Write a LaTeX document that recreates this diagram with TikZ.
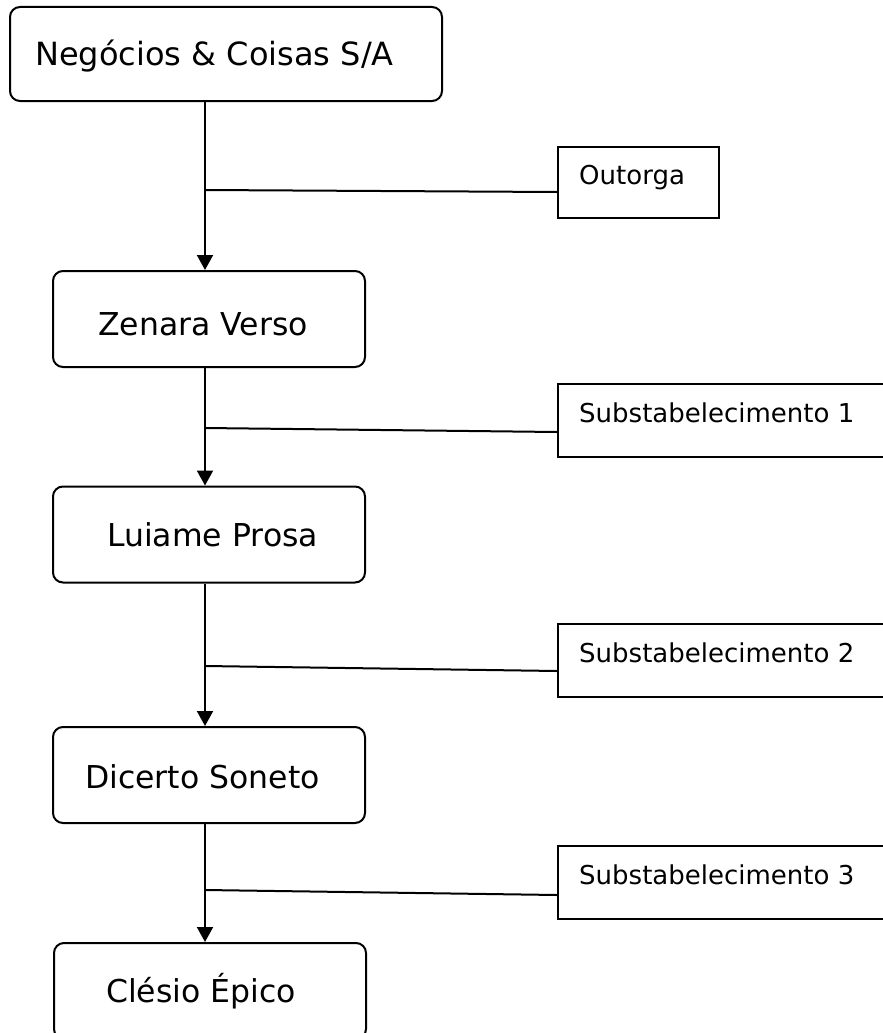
\documentclass[tikz,border=0pt]{standalone}
\usepackage{fontspec}
\setmainfont{DejaVu Sans}
\usetikzlibrary{arrows.meta}
\begin{document}
\begin{tikzpicture}[x=1pt,y=1pt,
  mainbox/.style={draw=black, line width=2pt, rounded corners=10pt, minimum width=312pt, minimum height=96pt, inner sep=0pt},
  subbox/.style={draw=black, line width=2pt, minimum width=420pt, minimum height=73pt, inner sep=0pt, anchor=west},
  bigtxt/.style={anchor=base west, inner sep=0pt, font=\fontsize{31.5}{37}\selectfont},
  smalltxt/.style={anchor=base west, inner sep=0pt, font=\fontsize{26}{31}\selectfont},
  link/.style={line width=2pt},
  flow/.style={line width=2pt, -{Triangle[length=15pt,width=16pt]}}
]
\path[use as bounding box, clip] (0,0) rectangle (883,-1033);

% main boxes
\node[mainbox, minimum width=432pt, minimum height=94pt] (b1) at (226,-54) {};
\node[bigtxt, font=\fontsize{32}{38}\selectfont] (t1) at (35,-66) {Negócios \& Coisas S/A};
\node[mainbox] (b2) at (209,-319) {};
\node[bigtxt] (t2) at (98,-335) {Zenara Verso};
\node[mainbox] (b3) at (209,-534.5) {};
\node[bigtxt] (t3) at (107,-546) {Luiame Prosa};
\node[mainbox] (b4) at (209,-775) {};
\node[bigtxt] (t4) at (85,-788) {Dicerto Soneto};
\node[mainbox] (b5) at (210,-991) {};
\node[bigtxt] (t5) at (106,-1002) {Clésio Épico};

% side boxes
\node[subbox, minimum width=161pt, minimum height=71pt] (s0) at (557,-182.5) {};
\node[smalltxt] (u0) at (579,-184) {Outorga};
\node[subbox] (s1) at (557,-420.5) {};
\node[smalltxt] (u1) at (579,-422) {Substabelecimento 1};
\node[subbox] (s2) at (557,-660.5) {};
\node[smalltxt] (u2) at (579,-662) {Substabelecimento 2};
\node[subbox] (s3) at (557,-882.5) {};
\node[smalltxt] (u3) at (579,-884) {Substabelecimento 3};

% junction points on the spine
\coordinate (j0) at (205,-190);
\coordinate (j1) at (205,-428);
\coordinate (j2) at (205,-666);
\coordinate (j3) at (205,-890);

% spine arrows
\draw[flow] (b1.south -| j0) -- (b2.north -| j0);
\draw[flow] (b2.south -| j1) -- (b3.north -| j1);
\draw[flow] (b3.south -| j2) -- (b4.north -| j2);
\draw[flow] (b4.south -| j3) -- (b5.north -| j3);

% branches
\draw[link] (j0) -- ([yshift=-9.5pt]s0.west);
\draw[link] (j1) -- ([yshift=-11.5pt]s1.west);
\draw[link] (j2) -- ([yshift=-10.5pt]s2.west);
\draw[link] (j3) -- ([yshift=-12.5pt]s3.west);
\end{tikzpicture}
\end{document}
